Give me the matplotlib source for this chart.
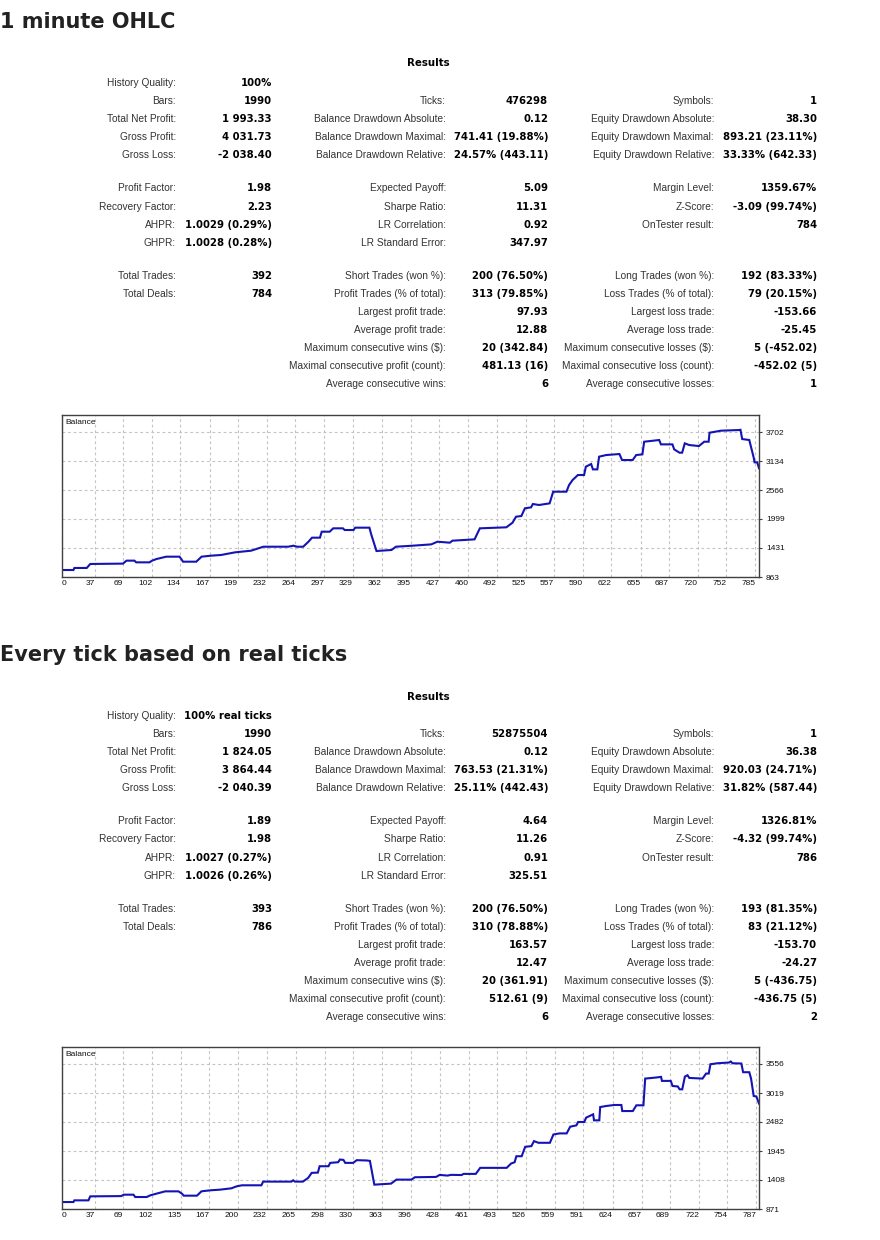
import numpy as np
import matplotlib
matplotlib.use("Agg")
import matplotlib.pyplot as plt

plt.rcParams['font.family'] = ['Liberation Sans', 'DejaVu Sans']

W, H = 880, 1240

# ---- report 1 : 1 minute OHLC ----
title1 = "1 minute OHLC"
rows1 = [
    ["History Quality:", "100%", "", "", "", ""],
    ["Bars:", "1990", "Ticks:", "476298", "Symbols:", "1"],
    ["Total Net Profit:", "1 993.33", "Balance Drawdown Absolute:", "0.12", "Equity Drawdown Absolute:", "38.30"],
    ["Gross Profit:", "4 031.73", "Balance Drawdown Maximal:", "741.41 (19.88%)", "Equity Drawdown Maximal:", "893.21 (23.11%)"],
    ["Gross Loss:", "-2 038.40", "Balance Drawdown Relative:", "24.57% (443.11)", "Equity Drawdown Relative:", "33.33% (642.33)"],
    ["Profit Factor:", "1.98", "Expected Payoff:", "5.09", "Margin Level:", "1359.67%"],
    ["Recovery Factor:", "2.23", "Sharpe Ratio:", "11.31", "Z-Score:", "-3.09 (99.74%)"],
    ["AHPR:", "1.0029 (0.29%)", "LR Correlation:", "0.92", "OnTester result:", "784"],
    ["GHPR:", "1.0028 (0.28%)", "LR Standard Error:", "347.97", "", ""],
    ["Total Trades:", "392", "Short Trades (won %):", "200 (76.50%)", "Long Trades (won %):", "192 (83.33%)"],
    ["Total Deals:", "784", "Profit Trades (% of total):", "313 (79.85%)", "Loss Trades (% of total):", "79 (20.15%)"],
    ["", "", "Largest profit trade:", "97.93", "Largest loss trade:", "-153.66"],
    ["", "", "Average profit trade:", "12.88", "Average loss trade:", "-25.45"],
    ["", "", "Maximum consecutive wins ($):", "20 (342.84)", "Maximum consecutive losses ($):", "5 (-452.02)"],
    ["", "", "Maximal consecutive profit (count):", "481.13 (16)", "Maximal consecutive loss (count):", "-452.02 (5)"],
    ["", "", "Average consecutive wins:", "6", "Average consecutive losses:", "1"],
]
trades1 = [0, 13, 14, 28, 32, 69, 73, 82, 84, 99, 102, 107, 118, 133, 135, 137, 152, 158, 169, 180,
           196, 214, 228, 256, 262, 266, 273, 279, 283, 292, 294, 303, 307, 318, 320, 330, 332, 348,
           350, 356, 373, 378, 397, 418, 425, 439, 442, 467, 473, 503, 510, 514, 520, 524, 531, 533,
           540, 552, 556, 571, 574, 578, 584, 591, 593, 599, 601, 606, 608, 616, 631, 634, 646, 650,
           657, 659, 676, 678, 691, 693, 699, 702, 705, 710, 721, 727, 732, 733, 746, 767, 768, 770,
           778, 783, 784, 787, 789]
balance1 = [1000, 1000, 1040, 1040, 1118, 1125, 1183, 1183, 1150, 1150, 1183, 1215, 1261, 1261, 1215,
            1163, 1163, 1261, 1281, 1294, 1346, 1378, 1456, 1456, 1476, 1456, 1456, 1554, 1633, 1633,
            1750, 1750, 1816, 1816, 1783, 1783, 1829, 1829, 1700, 1372, 1392, 1456, 1476, 1502, 1554,
            1535, 1574, 1600, 1816, 1836, 1927, 2044, 2057, 2208, 2227, 2292, 2273, 2305, 2533, 2533,
            2664, 2762, 2860, 2860, 3023, 3075, 2970, 2970, 3219, 3251, 3271, 3153, 3153, 3251, 3264,
            3512, 3545, 3460, 3460, 3362, 3297, 3297, 3480, 3447, 3427, 3512, 3512, 3688, 3728, 3741,
            3745, 3564, 3545, 3200, 3108, 3108, 2993]
xlabels1 = ["0", "37", "69", "102", "134", "167", "199", "232", "264", "297", "329", "362", "395",
            "427", "460", "492", "525", "557", "590", "622", "655", "687", "720", "752", "785"]
yticks1 = [863, 1431, 1999, 2566, 3134, 3702]

# ---- report 2 : every tick based on real ticks ----
title2 = "Every tick based on real ticks"
rows2 = [
    ["History Quality:", "100% real ticks", "", "", "", ""],
    ["Bars:", "1990", "Ticks:", "52875504", "Symbols:", "1"],
    ["Total Net Profit:", "1 824.05", "Balance Drawdown Absolute:", "0.12", "Equity Drawdown Absolute:", "36.38"],
    ["Gross Profit:", "3 864.44", "Balance Drawdown Maximal:", "763.53 (21.31%)", "Equity Drawdown Maximal:", "920.03 (24.71%)"],
    ["Gross Loss:", "-2 040.39", "Balance Drawdown Relative:", "25.11% (442.43)", "Equity Drawdown Relative:", "31.82% (587.44)"],
    ["Profit Factor:", "1.89", "Expected Payoff:", "4.64", "Margin Level:", "1326.81%"],
    ["Recovery Factor:", "1.98", "Sharpe Ratio:", "11.26", "Z-Score:", "-4.32 (99.74%)"],
    ["AHPR:", "1.0027 (0.27%)", "LR Correlation:", "0.91", "OnTester result:", "786"],
    ["GHPR:", "1.0026 (0.26%)", "LR Standard Error:", "325.51", "", ""],
    ["Total Trades:", "393", "Short Trades (won %):", "200 (76.50%)", "Long Trades (won %):", "193 (81.35%)"],
    ["Total Deals:", "786", "Profit Trades (% of total):", "310 (78.88%)", "Loss Trades (% of total):", "83 (21.12%)"],
    ["", "", "Largest profit trade:", "163.57", "Largest loss trade:", "-153.70"],
    ["", "", "Average profit trade:", "12.47", "Average loss trade:", "-24.27"],
    ["", "", "Maximum consecutive wins ($):", "20 (361.91)", "Maximum consecutive losses ($):", "5 (-436.75)"],
    ["", "", "Maximal consecutive profit (count):", "512.61 (9)", "Maximal consecutive loss (count):", "-436.75 (5)"],
    ["", "", "Average consecutive wins:", "6", "Average consecutive losses:", "2"],
]
trades2 = [0, 13, 14, 30, 32, 67, 70, 81, 83, 96, 100, 107, 117, 132, 136, 138, 153, 158, 168, 179,
           192, 198, 204, 226, 228, 260, 262, 264, 273, 279, 283, 290, 292, 302, 304, 313, 315, 319,
           321, 330, 334, 345, 349, 354, 373, 379, 396, 400, 424, 428, 437, 441, 453, 455, 469, 474,
           504, 509, 513, 515, 521, 525, 532, 535, 540, 553, 557, 564, 572, 576, 583, 585, 592, 594,
           602, 603, 609, 610, 617, 626, 634, 635, 647, 651, 659, 661, 673, 679, 680, 690, 692, 698,
           700, 703, 706, 709, 711, 726, 730, 733, 735, 743, 756, 758, 760, 770, 772, 779, 781, 784,
           787, 790]
balance2 = [1000, 1000, 1031, 1031, 1105, 1110, 1136, 1136, 1093, 1093, 1124, 1155, 1198, 1198, 1155,
            1118, 1118, 1198, 1217, 1229, 1254, 1291, 1310, 1310, 1378, 1378, 1403, 1378, 1378, 1447,
            1540, 1545, 1663, 1663, 1725, 1737, 1787, 1780, 1725, 1725, 1775, 1770, 1762, 1322, 1341,
            1415, 1415, 1459, 1465, 1502, 1490, 1503, 1500, 1521, 1521, 1633, 1633, 1713, 1737, 1848,
            1848, 2023, 2035, 2128, 2097, 2097, 2251, 2271, 2271, 2395, 2420, 2482, 2482, 2562, 2624,
            2513, 2513, 2759, 2779, 2797, 2797, 2685, 2685, 2791, 2791, 3286, 3305, 3317, 3243, 3243,
            3149, 3140, 3087, 3087, 3323, 3348, 3298, 3286, 3379, 3379, 3552, 3570, 3583, 3602, 3570,
            3565, 3404, 3404, 3286, 2963, 2955, 2824]
xlabels2 = ["0", "37", "69", "102", "135", "167", "200", "232", "265", "298", "330", "363", "396",
            "428", "461", "493", "526", "559", "591", "624", "657", "689", "722", "754", "787"]
yticks2 = [871, 1408, 1945, 2482, 3019, 3556]

TXT = '#222222'
LINE = '#1414b4'
GRID = '#c4c4c4'
FRAME = '#404040'

fig = plt.figure(figsize=(W / 100, H / 100), dpi=100)


def fx(x):
    return x / W


def fy(y):
    return 1 - y / H


def draw_report(top, title, rows):
    fig.text(fx(0), fy(top + 28), title, fontsize=15, fontweight='bold',
             family='DejaVu Sans', color=TXT, va='baseline', ha='left')
    fig.text(fx(428), fy(top + 66.5), "Results", fontsize=7.4, fontweight='bold',
             family='DejaVu Sans', color='black', va='baseline', ha='center')
    row_y = []
    for g, (start, n) in enumerate([(82, 5), (187.6, 4), (275, 7)]):
        row_y += [start + 18.1 * i for i in range(n)]
    label_x = [176, 446, 714]
    value_x = [272, 548, 817]
    for y, row in zip(row_y, rows):
        for c in range(3):
            lab, val = row[2 * c], row[2 * c + 1]
            if lab:
                fig.text(fx(label_x[c]), fy(top + y + 3.8), lab, fontsize=7.3,
                         family='Liberation Sans', color='#333333', ha='right', va='baseline')
            if val:
                fig.text(fx(value_x[c]), fy(top + y + 3.8), val, fontsize=7.3, fontweight='bold',
                         family='DejaVu Sans', color='black', ha='right', va='baseline')


def draw_balance(top, trades, balance, xlabels, yticks, xmax):
    ax = fig.add_axes([fx(62), fy(top + 162), 697 / W, 162 / H])
    ax.plot(trades, balance, color=LINE, lw=1.5, solid_joinstyle='miter')
    step = yticks[1] - yticks[0]
    ax.set_ylim(yticks[0], yticks[-1] + step * 17 / 29)
    ax.set_xlim(0, xmax)
    ax.set_xticks([int(s) for s in xlabels])
    ax.set_xticklabels(xlabels)
    ax.set_yticks(yticks)
    ax.set_yticklabels([str(v) for v in yticks])
    ax.yaxis.tick_right()
    ax.tick_params(axis='x', length=0, pad=2.5, labelsize=6, labelcolor='#111111')
    ax.tick_params(axis='y', length=2.5, width=0.8, pad=2.5, labelsize=6,
                   labelcolor='#111111', color=FRAME)
    labels = ax.get_xticklabels()
    for lbl in labels:
        lbl.set_ha('right')
    labels[0].set_ha('left')
    ax.grid(True, color=GRID, linestyle=(0, (2.5, 2.5)), lw=0.8)
    ax.set_axisbelow(True)
    for s in ax.spines.values():
        s.set_color(FRAME)
        s.set_linewidth(1.0)
    ax.text(0.005, 0.975, "Balance", transform=ax.transAxes, fontsize=6,
            color='#111111', ha='left', va='top')
    return ax


draw_report(0, title1, rows1)
draw_balance(415, trades1, balance1, xlabels1, yticks1, 789)
draw_report(633, title2, rows2)
draw_balance(1047, trades2, balance2, xlabels2, yticks2, 790)

fig.savefig("out.png", dpi=100, facecolor='white')
